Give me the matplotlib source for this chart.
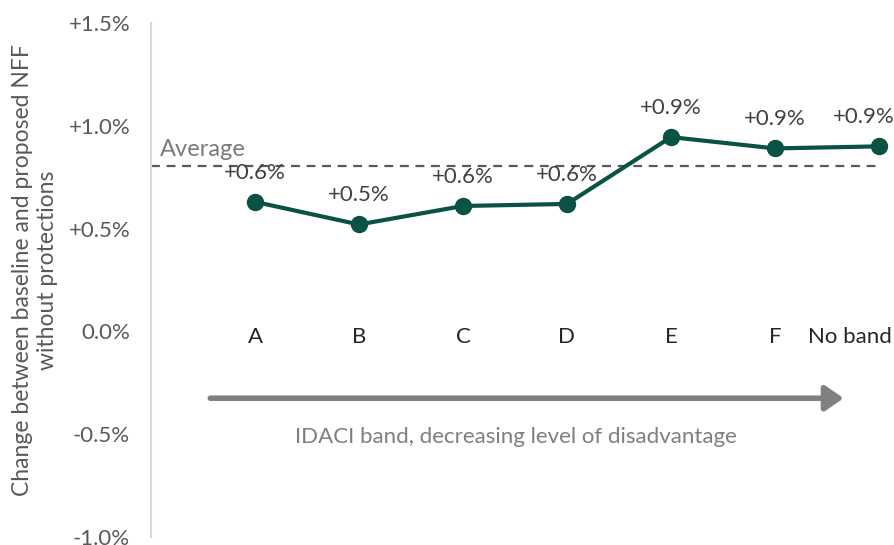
import matplotlib
matplotlib.use("Agg")
import matplotlib.pyplot as plt

bands = ["A", "B", "C", "D", "E", "F", "No band"]
change_pct = [0.63, 0.52, 0.61, 0.62, 0.945, 0.89, 0.90]
point_labels = ["+0.6%", "+0.5%", "+0.6%", "+0.6%", "+0.9%", "+0.9%", "+0.9%"]
average_pct = 0.805
yticks = [-1.0, -0.5, 0.0, 0.5, 1.0, 1.5]
ytick_labels = ["-1.0%", "-0.5%", "0.0%", "+0.5%", "+1.0%", "+1.5%"]

plt.rcParams["font.family"] = ["Lato", "DejaVu Sans"]

GREEN = "#0a5243"
GREY_TXT = "#595959"

fig = plt.figure(figsize=(8.94, 5.45), dpi=100)
ax = fig.add_axes([151 / 894, 8 / 545, 743 / 894, 514 / 545])

x = list(range(len(bands)))
ax.plot(x, change_pct, color=GREEN, lw=3, marker="o", ms=11.5, zorder=3)

for xi, yi, lab in zip(x, change_pct, point_labels):
    if xi == len(x) - 1:
        # last label pushed back inside the figure, as Excel does
        ax.annotate(lab, (xi, yi), xytext=(11, 21), textcoords="offset points",
                    ha="right", va="center", fontsize=16, color="#404040", zorder=4)
    else:
        ax.annotate(lab, (xi, yi), xytext=(0, 21), textcoords="offset points",
                    ha="center", va="center", fontsize=16, color="#404040", zorder=4)

# average line
ax.hlines(average_pct, -1, 6.03, colors="#595959", linestyles=(0, (4, 3)), lw=1.6, zorder=2)
ax.text(-0.91, average_pct + 0.03, "Average", ha="left", va="bottom",
        fontsize=17, color="#7a7a7a")

# category labels along zero
for xi, lab in zip(x, bands):
    if lab == "No band":
        ax.text(xi + 0.12, -0.025, lab, ha="right", va="center", fontsize=16, color="#262626")
    else:
        ax.text(xi, -0.025, lab, ha="center", va="center", fontsize=16, color="#262626")

# direction arrow
ax.annotate("", xy=(5.66, -0.325), xytext=(-0.43, -0.325),
            arrowprops=dict(arrowstyle="-|>,head_length=0.55,head_width=0.38",
                            lw=4, color="#808080", mutation_scale=20,
                            shrinkA=0, shrinkB=0))
ax.text(2.51, -0.515, "IDACI band, decreasing level of disadvantage",
        ha="center", va="center", fontsize=16, color="#7f7f7f")

ax.set_xlim(-1, -1 + 743 / 104)
ax.set_ylim(-1.0, 1.5)
ax.set_xticks([])
ax.set_yticks(yticks)
ax.set_yticklabels(ytick_labels, fontsize=16, color=GREY_TXT)
ax.tick_params(axis="y", length=0, pad=15)

for s in ["top", "right", "bottom"]:
    ax.spines[s].set_visible(False)
ax.spines["left"].set_color("#d9d9d9")
ax.spines["left"].set_linewidth(1.5)

fig.text(35 / 894, 1 - 270 / 545, "Change between baseline and proposed NFF\nwithout protections",
         rotation=90, ha="center", va="center", fontsize=16.5, color=GREY_TXT,
         linespacing=1.25)

fig.savefig("out.png", dpi=100)
